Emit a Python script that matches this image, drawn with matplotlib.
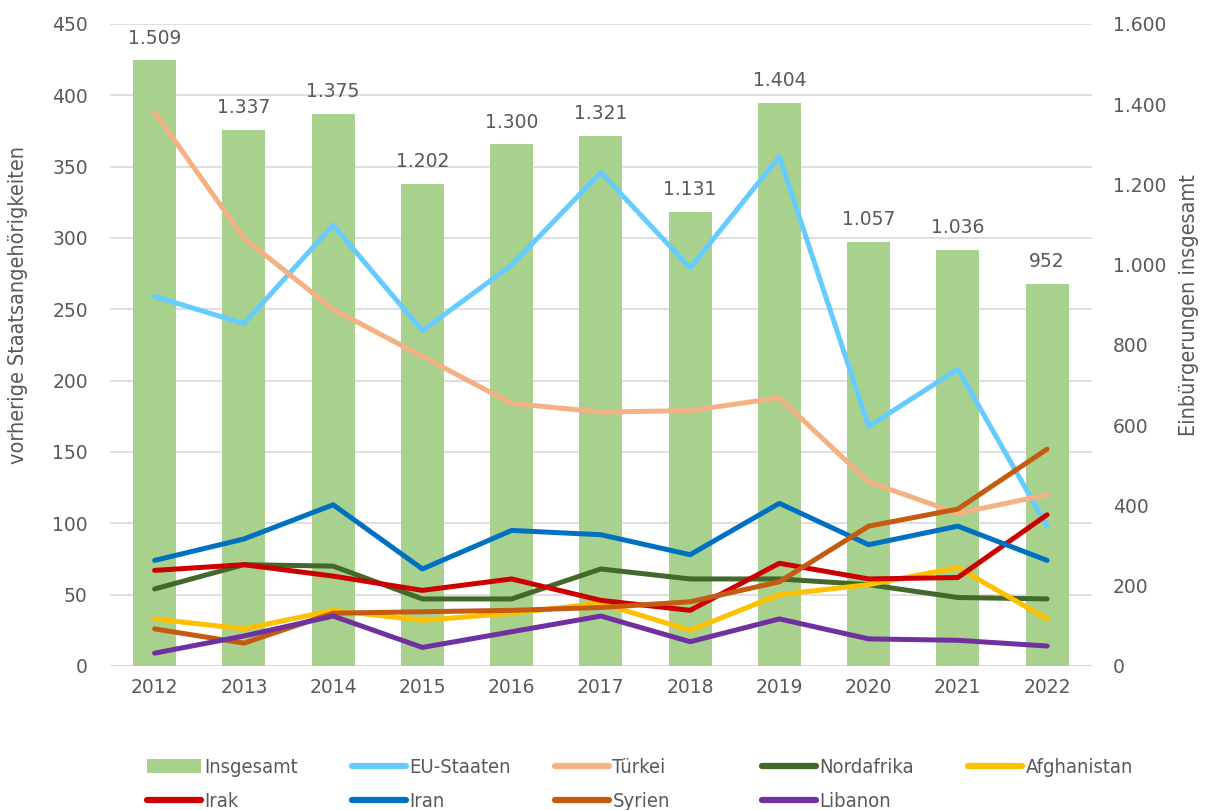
import matplotlib
matplotlib.use("Agg")
import matplotlib.pyplot as plt
from matplotlib.ticker import FuncFormatter
from matplotlib.patches import Patch
from matplotlib.lines import Line2D

plt.rcParams['font.family'] = ['DejaVu Sans']

# -----------------------
# Data
# -----------------------
years = ["2012", "2013", "2014", "2015", "2016", "2017", "2018", "2019", "2020", "2021", "2022"]
insgesamt = [1509, 1337, 1375, 1202, 1300, 1321, 1131, 1404, 1057, 1036, 952]

eu_staaten = [259, 240, 309, 235, 281, 346, 279, 357, 168, 208, 98]
tuerkei = [388, 300, 250, 217, 184, 178, 179, 188, 129, 107, 120]
nordafrika = [54, 71, 70, 47, 47, 68, 61, 61, 57, 48, 47]
afghanistan = [33, 26, 39, 32, 37, 44, 25, 50, 57, 69, 33]
irak = [67, 71, 63, 53, 61, 46, 39, 72, 61, 62, 106]
iran = [74, 89, 113, 68, 95, 92, 78, 114, 85, 98, 74]
syrien = [26, 16, 37, 38, 39, 41, 45, 59, 98, 110, 152]
libanon = [9, 21, 35, 13, 24, 35, 17, 33, 19, 18, 14]

series = [
    ("EU-Staaten", eu_staaten, "#66CCFF"),
    ("Türkei", tuerkei, "#F4B183"),
    ("Nordafrika", nordafrika, "#43682B"),
    ("Afghanistan", afghanistan, "#FFC000"),
    ("Irak", irak, "#CC0000"),
    ("Iran", iran, "#0070C0"),
    ("Syrien", syrien, "#C55A11"),
    ("Libanon", libanon, "#7030A0"),
]

TXT = "#595959"
BAR_COLOR = "#A9D18E"
NARROW = dict(fontstretch="condensed")


def de_fmt(v, pos=None):
    return f"{int(v):,}".replace(",", ".")


# -----------------------
# Figure
# -----------------------
fig = plt.figure(figsize=(12.05, 8.1), dpi=100)
ax = fig.add_axes([0.0913, 0.1778, 0.8147, 0.7926])
ax2 = ax.twinx()

x = list(range(len(years)))

# bars on right axis, drawn behind lines
ax2.bar(x, insgesamt, width=0.48, color=BAR_COLOR, zorder=1)
for xi, v in zip(x, insgesamt):
    ax2.text(xi, v + 32, de_fmt(v), ha="center", va="bottom", fontsize=13.5, color=TXT)
ax2.set_ylim(0, 1600)
ax2.set_yticks(range(0, 1601, 200))
ax2.yaxis.set_major_formatter(FuncFormatter(de_fmt))
ax2.set_ylabel("Einbürgerungen insgesamt", fontsize=15.5, color=TXT, **NARROW)
ax2.yaxis.set_label_coords(1.0885, 0.562)

# lines on left axis, put left axis on top
ax.set_zorder(ax2.get_zorder() + 1)
ax.patch.set_visible(False)
for name, vals, col in series:
    ax.plot(x, vals, color=col, linewidth=3.6, solid_capstyle="round", zorder=3)

ax.set_ylim(0, 450)
ax.set_yticks(range(0, 451, 50))
ax.set_xlim(-0.5, len(years) - 0.5)
ax.set_xticks(x)
ax.set_xticklabels(years)
ax.set_ylabel("vorherige Staatsangehörigkeiten", fontsize=15.5, color=TXT, **NARROW)
ax.yaxis.set_label_coords(-0.0835, 0.562)

# grid drawn on the bar axes so it sits behind the bars
for g in range(50, 451, 50):
    ax2.axhline(g * 1600 / 450, color="#D9D9D9", linewidth=1.2, zorder=0)
ax2.axhline(0, color="#D9D9D9", linewidth=1.5, zorder=0)

for a in (ax, ax2):
    for s in a.spines.values():
        s.set_visible(False)
    a.tick_params(length=0, labelsize=13.5, colors=TXT)
ax.tick_params(axis="x", pad=9)
ax.tick_params(axis="y", pad=16)
ax2.tick_params(axis="y", pad=15)

# -----------------------
# Legend: one small legend per column, evenly spaced like the original
# -----------------------
h = {"Insgesamt": Patch(facecolor=BAR_COLOR)}
for name, vals, col in series:
    h[name] = Line2D([0], [0], color=col, linewidth=4.5, solid_capstyle="round")
columns = [["Insgesamt", "Irak"], ["EU-Staaten", "Iran"], ["Türkei", "Syrien"],
           ["Nordafrika", "Libanon"], ["Afghanistan"]]
col_x = [147, 352, 555, 762, 968]
for cx, names in zip(col_x, columns):
    leg = fig.legend([h[k] for k in names], names, loc="upper left",
                     bbox_to_anchor=(cx / 1205, 1 - 758 / 810), frameon=False,
                     fontsize=14.5, labelcolor=TXT, handlelength=2.7,
                     handletextpad=0.15, labelspacing=0.75, borderpad=0,
                     borderaxespad=0)
    for t in leg.get_texts():
        t.set_fontstretch("condensed")

fig.savefig("out.png", dpi=100)
